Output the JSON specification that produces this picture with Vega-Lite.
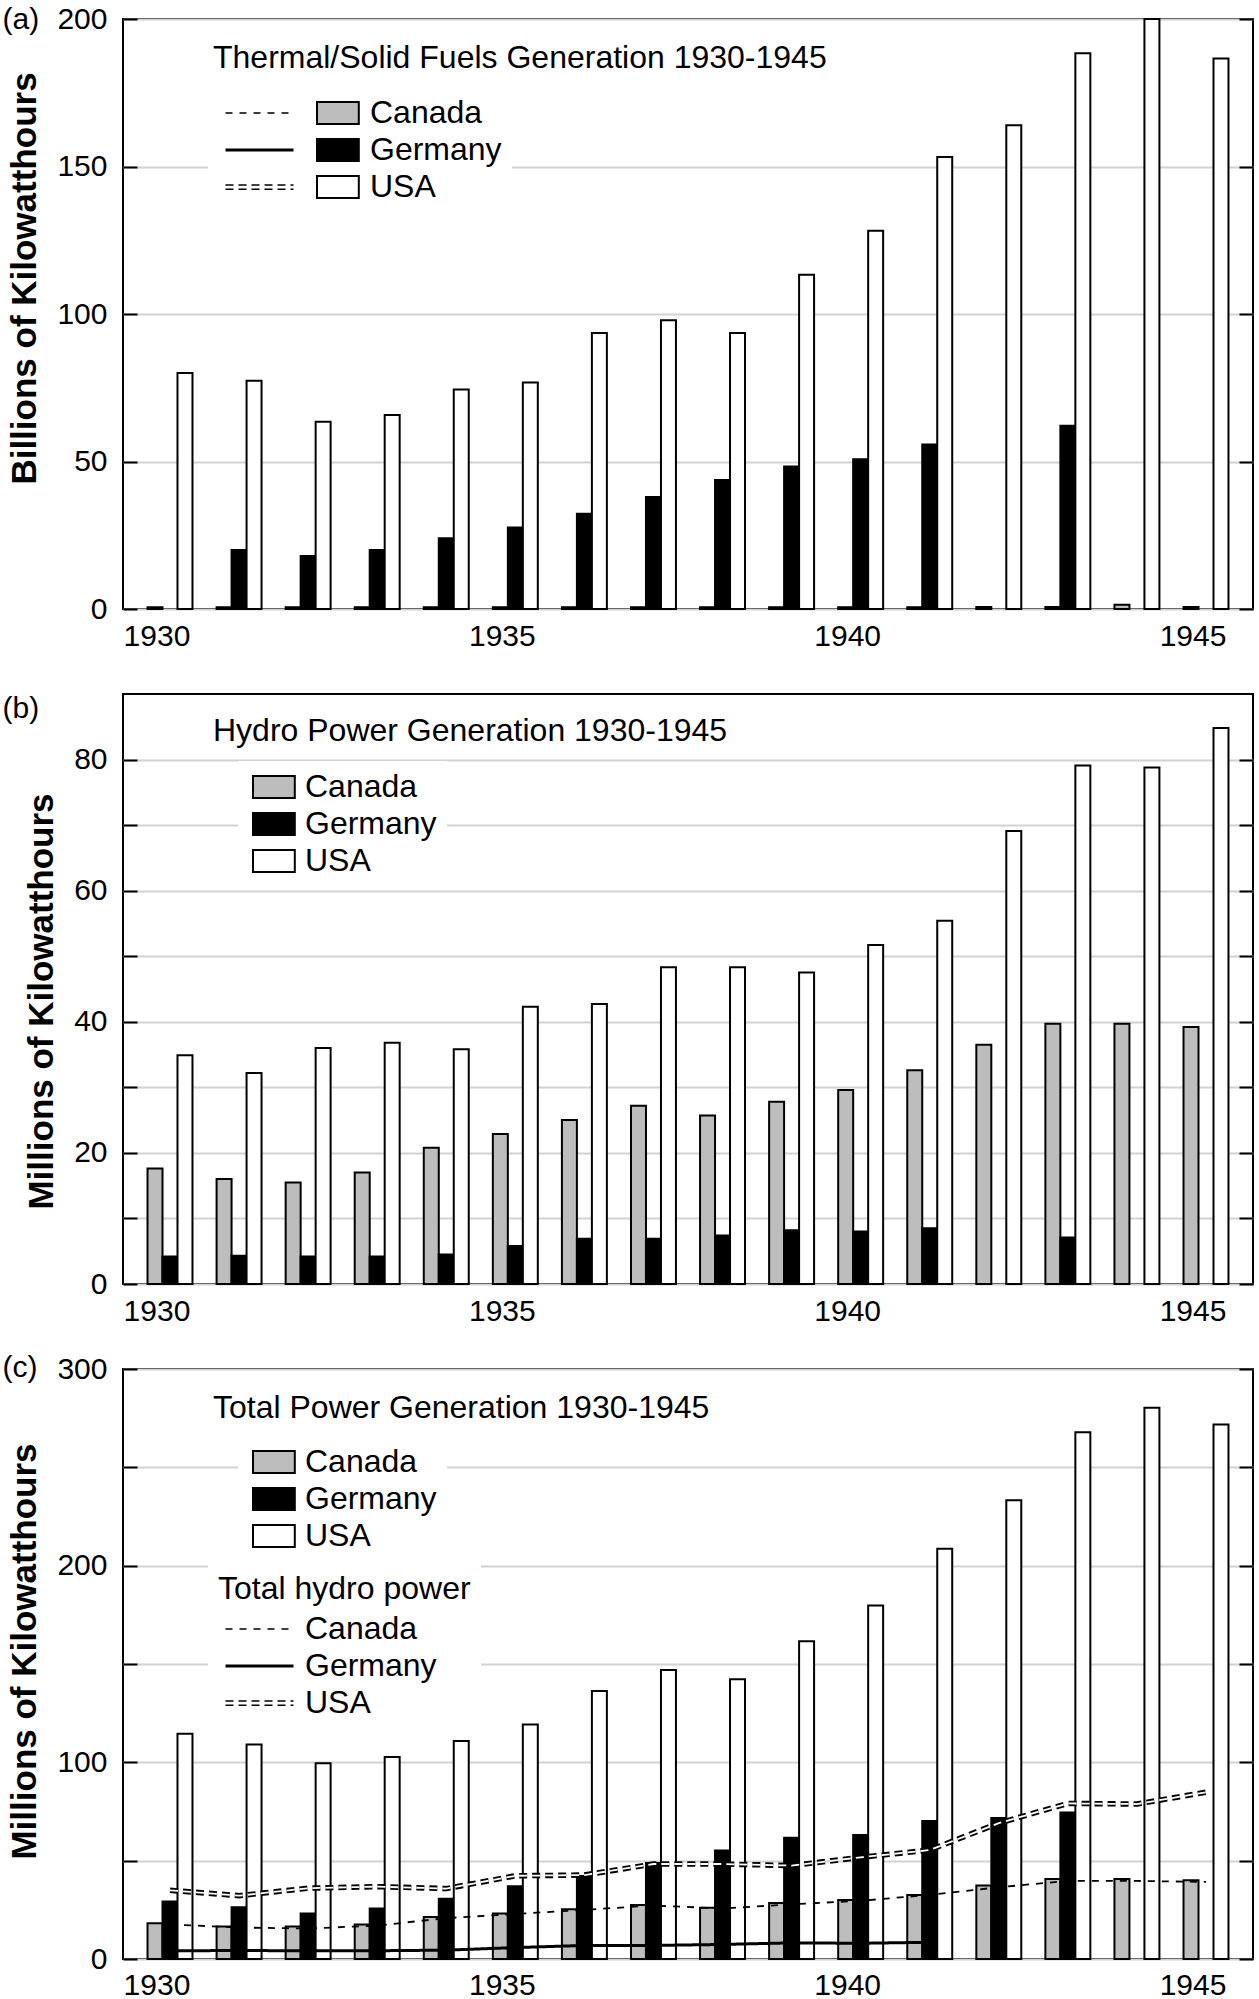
{
  "$schema": "https://vega.github.io/schema/vega-lite/v6.json",
  "background": "white",
  "padding": {"left": 1, "top": 3, "right": 0, "bottom": 0},
  "datasets": {
    "thermal": [
      {"year": 1930, "country": "Canada", "value": 0.6}, {"year": 1931, "country": "Canada", "value": 0.6},
      {"year": 1932, "country": "Canada", "value": 0.6}, {"year": 1933, "country": "Canada", "value": 0.6},
      {"year": 1934, "country": "Canada", "value": 0.6}, {"year": 1935, "country": "Canada", "value": 0.6},
      {"year": 1936, "country": "Canada", "value": 0.6}, {"year": 1937, "country": "Canada", "value": 0.6},
      {"year": 1938, "country": "Canada", "value": 0.6}, {"year": 1939, "country": "Canada", "value": 0.6},
      {"year": 1940, "country": "Canada", "value": 0.6}, {"year": 1941, "country": "Canada", "value": 0.6},
      {"year": 1942, "country": "Canada", "value": 0.7}, {"year": 1943, "country": "Canada", "value": 0.7},
      {"year": 1944, "country": "Canada", "value": 1.4}, {"year": 1945, "country": "Canada", "value": 0.7},
      {"year": 1931, "country": "Germany", "value": 20}, {"year": 1932, "country": "Germany", "value": 18},
      {"year": 1933, "country": "Germany", "value": 20}, {"year": 1934, "country": "Germany", "value": 24},
      {"year": 1935, "country": "Germany", "value": 27.6}, {"year": 1936, "country": "Germany", "value": 32.3},
      {"year": 1937, "country": "Germany", "value": 38}, {"year": 1938, "country": "Germany", "value": 43.7},
      {"year": 1939, "country": "Germany", "value": 48.3}, {"year": 1940, "country": "Germany", "value": 50.8},
      {"year": 1941, "country": "Germany", "value": 55.8}, {"year": 1943, "country": "Germany", "value": 62.1},
      {"year": 1930, "country": "USA", "value": 80}, {"year": 1931, "country": "USA", "value": 77.4},
      {"year": 1932, "country": "USA", "value": 63.5}, {"year": 1933, "country": "USA", "value": 65.8},
      {"year": 1934, "country": "USA", "value": 74.4}, {"year": 1935, "country": "USA", "value": 76.8},
      {"year": 1936, "country": "USA", "value": 93.6}, {"year": 1937, "country": "USA", "value": 97.9},
      {"year": 1938, "country": "USA", "value": 93.6}, {"year": 1939, "country": "USA", "value": 113.3},
      {"year": 1940, "country": "USA", "value": 128.2}, {"year": 1941, "country": "USA", "value": 153.2},
      {"year": 1942, "country": "USA", "value": 164}, {"year": 1943, "country": "USA", "value": 188.4},
      {"year": 1944, "country": "USA", "value": 200}, {"year": 1945, "country": "USA", "value": 186.6}
    ],
    "hydro": [
      {"year": 1930, "country": "Canada", "value": 17.6}, {"year": 1931, "country": "Canada", "value": 16.0},
      {"year": 1932, "country": "Canada", "value": 15.5}, {"year": 1933, "country": "Canada", "value": 17.0},
      {"year": 1934, "country": "Canada", "value": 20.8}, {"year": 1935, "country": "Canada", "value": 22.9},
      {"year": 1936, "country": "Canada", "value": 25.0}, {"year": 1937, "country": "Canada", "value": 27.2},
      {"year": 1938, "country": "Canada", "value": 25.7}, {"year": 1939, "country": "Canada", "value": 27.8},
      {"year": 1940, "country": "Canada", "value": 29.6}, {"year": 1941, "country": "Canada", "value": 32.6},
      {"year": 1942, "country": "Canada", "value": 36.5}, {"year": 1943, "country": "Canada", "value": 39.7},
      {"year": 1944, "country": "Canada", "value": 39.7}, {"year": 1945, "country": "Canada", "value": 39.2},
      {"year": 1930, "country": "Germany", "value": 4.2}, {"year": 1931, "country": "Germany", "value": 4.3},
      {"year": 1932, "country": "Germany", "value": 4.2}, {"year": 1933, "country": "Germany", "value": 4.2},
      {"year": 1934, "country": "Germany", "value": 4.5}, {"year": 1935, "country": "Germany", "value": 5.8},
      {"year": 1936, "country": "Germany", "value": 6.9}, {"year": 1937, "country": "Germany", "value": 6.9},
      {"year": 1938, "country": "Germany", "value": 7.4}, {"year": 1939, "country": "Germany", "value": 8.2},
      {"year": 1940, "country": "Germany", "value": 8.0}, {"year": 1941, "country": "Germany", "value": 8.5},
      {"year": 1943, "country": "Germany", "value": 7.1},
      {"year": 1930, "country": "USA", "value": 34.9}, {"year": 1931, "country": "USA", "value": 32.2},
      {"year": 1932, "country": "USA", "value": 36.0}, {"year": 1933, "country": "USA", "value": 36.8},
      {"year": 1934, "country": "USA", "value": 35.8}, {"year": 1935, "country": "USA", "value": 42.3},
      {"year": 1936, "country": "USA", "value": 42.7}, {"year": 1937, "country": "USA", "value": 48.3},
      {"year": 1938, "country": "USA", "value": 48.3}, {"year": 1939, "country": "USA", "value": 47.5},
      {"year": 1940, "country": "USA", "value": 51.7}, {"year": 1941, "country": "USA", "value": 55.4},
      {"year": 1942, "country": "USA", "value": 69.1}, {"year": 1943, "country": "USA", "value": 79.1},
      {"year": 1944, "country": "USA", "value": 78.8}, {"year": 1945, "country": "USA", "value": 84.8}
    ],
    "total": [
      {"year": 1930, "country": "Canada", "value": 18.2}, {"year": 1931, "country": "Canada", "value": 16.5},
      {"year": 1932, "country": "Canada", "value": 16.5}, {"year": 1933, "country": "Canada", "value": 17.5},
      {"year": 1934, "country": "Canada", "value": 21.4}, {"year": 1935, "country": "Canada", "value": 23.1},
      {"year": 1936, "country": "Canada", "value": 25.3}, {"year": 1937, "country": "Canada", "value": 27.4},
      {"year": 1938, "country": "Canada", "value": 26.1}, {"year": 1939, "country": "Canada", "value": 28.5},
      {"year": 1940, "country": "Canada", "value": 30.0}, {"year": 1941, "country": "Canada", "value": 32.5},
      {"year": 1942, "country": "Canada", "value": 37.4}, {"year": 1943, "country": "Canada", "value": 40.7},
      {"year": 1944, "country": "Canada", "value": 40.7}, {"year": 1945, "country": "Canada", "value": 40.0},
      {"year": 1930, "country": "Germany", "value": 29.3}, {"year": 1931, "country": "Germany", "value": 26.3},
      {"year": 1932, "country": "Germany", "value": 23.1}, {"year": 1933, "country": "Germany", "value": 25.7},
      {"year": 1934, "country": "Germany", "value": 30.6}, {"year": 1935, "country": "Germany", "value": 37.0},
      {"year": 1936, "country": "Germany", "value": 42.2}, {"year": 1937, "country": "Germany", "value": 48.8},
      {"year": 1938, "country": "Germany", "value": 55.2}, {"year": 1939, "country": "Germany", "value": 61.6},
      {"year": 1940, "country": "Germany", "value": 63.1}, {"year": 1941, "country": "Germany", "value": 70.2},
      {"year": 1942, "country": "Germany", "value": 71.7}, {"year": 1943, "country": "Germany", "value": 74.5},
      {"year": 1930, "country": "USA", "value": 114.5}, {"year": 1931, "country": "USA", "value": 109.1},
      {"year": 1932, "country": "USA", "value": 99.5}, {"year": 1933, "country": "USA", "value": 102.7},
      {"year": 1934, "country": "USA", "value": 110.8}, {"year": 1935, "country": "USA", "value": 119.2},
      {"year": 1936, "country": "USA", "value": 136.3}, {"year": 1937, "country": "USA", "value": 147.0},
      {"year": 1938, "country": "USA", "value": 142.3}, {"year": 1939, "country": "USA", "value": 161.6},
      {"year": 1940, "country": "USA", "value": 179.8}, {"year": 1941, "country": "USA", "value": 208.6},
      {"year": 1942, "country": "USA", "value": 233.3}, {"year": 1943, "country": "USA", "value": 267.9},
      {"year": 1944, "country": "USA", "value": 280.3}, {"year": 1945, "country": "USA", "value": 271.8}
    ]
  },
  "config": {
    "font": "Liberation Sans",
    "view": {"stroke": "black", "strokeWidth": 2},
    "axis": {
      "labelFont": "Liberation Sans", "labelFontSize": 30, "labelColor": "black",
      "titleFont": "Liberation Sans", "titleColor": "black",
      "gridColor": "#d2d2d2", "gridWidth": 2
    },
    "legend": {
      "labelFont": "Liberation Sans", "labelFontSize": 32, "labelColor": "black", "labelLimit": 1000,
      "titleFont": "Liberation Sans", "titleFontSize": 32, "titleFontWeight": "normal", "titleColor": "black", "titleLimit": 1000
    },
    "title": {"font": "Liberation Sans", "fontSize": 32, "fontWeight": "normal", "color": "black", "anchor": "start", "frame": "group", "limit": 1100}
  },
  "bounds": "flush",
  "spacing": 85,
  "resolve": {
    "scale": {"x": "independent", "y": "independent", "xOffset": "independent", "fill": "independent", "strokeDash": "independent"},
    "legend": {"fill": "independent", "strokeDash": "independent"}
  },
  "vconcat": [
    {
      "width": 1130, "height": 590,
      "title": {"text": "Thermal/Solid Fuels Generation 1930-1945", "dx": 90, "offset": -71},
      "data": {"name": "thermal"},
      "layer": [
        {
          "mark": {"type": "bar", "stroke": "black", "strokeWidth": 2},
          "encoding": {
            "x": {
              "field": "year", "type": "ordinal",
              "scale": {"paddingInner": 0.349, "paddingOuter": 0.355},
              "axis": {"title": null, "labelAngle": 0, "ticks": false, "domain": false, "labelPadding": 12, "labelOffset": -13,
                       "labelExpr": "datum.value % 5 === 0 ? datum.label : ''"}
            },
            "xOffset": {"field": "country"},
            "y": {
              "field": "value", "type": "quantitative",
              "scale": {"domain": [0, 200], "nice": false},
              "axis": {"orient": "left", "title": "Billions of Kilowatthours", "titleFontSize": 35, "titleFontWeight": "bold", "titlePadding": 14, "titleY": 259,
                       "values": [0, 50, 100, 150, 200], "tickSize": -14, "tickColor": "black", "tickWidth": 2,
                       "labelPadding": 30, "domain": false, "grid": true}
            },
            "fill": {
              "field": "country",
              "scale": {"range": ["#bdbdbd", "black", "white"]},
              "legend": {"title": null, "orient": "none", "legendX": 179, "legendY": 68, "padding": 10, "fillColor": "white",
                         "symbolType": "M-1,-1H2.8V1H-1Z", "symbolSize": 484, "symbolStrokeColor": "black", "symbolStrokeWidth": 2,
                         "labelOffset": 26, "rowPadding": 5}
            }
          }
        },
        {
          "data": {"name": "hydro"},
          "transform": [{"filter": "false"}],
          "mark": {"type": "line", "stroke": "black"},
          "encoding": {
            "x": {
              "field": "year", "type": "ordinal",
              "axis": {"title": null, "labelAngle": 0, "ticks": false, "domain": false, "labelPadding": 12, "labelOffset": -13,
                       "labelExpr": "datum.value % 5 === 0 ? datum.label : ''"}
            },
            "y": {
              "field": "value", "type": "quantitative",
              "axis": {"orient": "right", "title": "(a)", "titleAngle": 0, "titleX": -1251, "titleY": 0, "titleAlign": "left", "titleBaseline": "middle",
                       "titleFontSize": 30, "titleFontWeight": "normal", "labels": false, "values": [0, 50, 100, 150, 200],
                       "tickSize": -14, "tickColor": "black", "tickWidth": 2, "domain": false, "grid": false}
            },
            "strokeDash": {
              "field": "country",
              "scale": {"domain": ["Canada", "Germany", "USA"], "range": [[7, 7], [1, 0], [8, 5]]},
              "legend": {"title": null, "orient": "none", "legendX": 85, "legendY": 68, "padding": 10, "fillColor": "white",
                         "symbolType": "M-1,0H7", "symbolSize": 289, "symbolStrokeColor": "black", "symbolStrokeWidth": 1.5,
                         "labelExpr": "''", "labelOffset": 0, "rowPadding": 5,
                         "encode": {"symbols": {"update": {
                           "shape": {"signal": "datum.value === 'USA' ? 'M-1,-0.25H7M-1,0.25H7' : 'M-1,0H7'"},
                           "strokeWidth": {"signal": "datum.value === 'Germany' ? 3 : 1.5"}}}}}
            }
          }
        }
      ]
    },
    {
      "width": 1130, "height": 590,
      "title": {"text": "Hydro Power Generation 1930-1945", "dx": 90, "offset": -55},
      "data": {"name": "hydro"},
      "layer": [
        {
          "mark": {"type": "bar", "stroke": "black", "strokeWidth": 2},
          "encoding": {
            "x": {
              "field": "year", "type": "ordinal",
              "scale": {"paddingInner": 0.349, "paddingOuter": 0.355},
              "axis": {"title": null, "labelAngle": 0, "ticks": false, "domain": false, "labelPadding": 12, "labelOffset": -13,
                       "labelExpr": "datum.value % 5 === 0 ? datum.label : ''"}
            },
            "xOffset": {"field": "country"},
            "y": {
              "field": "value", "type": "quantitative",
              "scale": {"domain": [0, 90], "nice": false},
              "axis": {"orient": "left", "title": "Millions of Kilowatthours", "titleFontSize": 35, "titleFontWeight": "bold", "titlePadding": 14, "titleY": 307,
                       "values": [0, 10, 20, 30, 40, 50, 60, 70, 80], "labelExpr": "datum.value % 20 === 0 ? datum.label : ''",
                       "tickSize": -14, "tickColor": "black", "tickWidth": 2,
                       "labelPadding": 30, "domain": false, "grid": true}
            },
            "fill": {
              "field": "country",
              "scale": {"range": ["#bdbdbd", "black", "white"]},
              "legend": {"title": null, "orient": "none", "legendX": 115, "legendY": 67, "padding": 10, "fillColor": "white",
                         "symbolType": "M-1,-1H2.8V1H-1Z", "symbolSize": 484, "symbolStrokeColor": "black", "symbolStrokeWidth": 2,
                         "labelOffset": 25, "rowPadding": 5}
            }
          }
        },
        {
          "transform": [{"filter": "false"}],
          "mark": {"type": "rule"},
          "encoding": {
            "y": {
              "field": "value", "type": "quantitative",
              "axis": {"orient": "right", "title": "(b)", "titleAngle": 0, "titleX": -1251, "titleY": 14, "titleAlign": "left", "titleBaseline": "middle",
                       "titleFontSize": 30, "titleFontWeight": "normal", "labels": false, "values": [0, 10, 20, 30, 40, 50, 60, 70, 80],
                       "tickSize": -14, "tickColor": "black", "tickWidth": 2, "domain": false, "grid": false}
            }
          }
        }
      ]
    },
    {
      "width": 1130, "height": 590,
      "title": {"text": "Total Power Generation 1930-1945", "dx": 90, "offset": -73},
      "data": {"name": "total"},
      "layer": [
        {
          "mark": {"type": "bar", "stroke": "black", "strokeWidth": 2},
          "encoding": {
            "x": {
              "field": "year", "type": "ordinal",
              "scale": {"paddingInner": 0.349, "paddingOuter": 0.355},
              "axis": {"title": null, "labelAngle": 0, "ticks": false, "domain": false, "labelPadding": 11, "labelOffset": -13,
                       "labelExpr": "datum.value % 5 === 0 ? datum.label : ''"}
            },
            "xOffset": {"field": "country"},
            "y": {
              "field": "value", "type": "quantitative",
              "scale": {"domain": [0, 300], "nice": false},
              "axis": {"orient": "left", "title": "Millions of Kilowatthours", "titleFontSize": 35, "titleFontWeight": "bold", "titlePadding": 14, "titleY": 282,
                       "values": [0, 50, 100, 150, 200, 250, 300], "labelExpr": "datum.value % 100 === 0 ? datum.label : ''",
                       "tickSize": -14, "tickColor": "black", "tickWidth": 2,
                       "labelPadding": 30, "domain": false, "grid": true}
            },
            "fill": {
              "field": "country",
              "scale": {"range": ["#bdbdbd", "black", "white"]},
              "legend": {"title": null, "orient": "none", "legendX": 115, "legendY": 67, "padding": 10, "fillColor": "white",
                         "symbolType": "M-1,-1H2.8V1H-1Z", "symbolSize": 484, "symbolStrokeColor": "black", "symbolStrokeWidth": 2,
                         "labelOffset": 25, "rowPadding": 5}
            }
          }
        },
        {
          "data": {"name": "hydro"},
          "transform": [{"filter": "datum.country === 'Canada' || (datum.country === 'Germany' && datum.year <= 1941)"}],
          "mark": {"type": "line", "stroke": "black"},
          "encoding": {
            "x": {
              "field": "year", "type": "ordinal",
              "axis": {"title": null, "labelAngle": 0, "ticks": false, "domain": false, "labelPadding": 11, "labelOffset": -13,
                       "labelExpr": "datum.value % 5 === 0 ? datum.label : ''"}
            },
            "y": {
              "field": "value", "type": "quantitative",
              "axis": {"orient": "right", "title": "(c)", "titleAngle": 0, "titleX": -1251, "titleY": -2, "titleAlign": "left", "titleBaseline": "middle",
                       "titleFontSize": 30, "titleFontWeight": "normal", "labels": false, "values": [0, 50, 100, 150, 200, 250, 300],
                       "tickSize": -14, "tickColor": "black", "tickWidth": 2, "domain": false, "grid": false}
            },
            "strokeWidth": {"condition": {"test": "datum.country === 'Germany'", "value": 3}, "value": 1.8},
            "strokeDash": {
              "field": "country",
              "scale": {"domain": ["Canada", "Germany", "USA"], "range": [[7, 7], [1, 0], [8, 5]]},
              "legend": {"title": "Total hydro power", "titlePadding": 7, "orient": "none", "legendX": 85, "legendY": 195, "padding": 10, "fillColor": "white",
                         "symbolType": "M-1,0H7", "symbolSize": 289, "symbolStrokeColor": "black", "symbolStrokeWidth": 1.5,
                         "labelOffset": 55, "rowPadding": 5,
                         "encode": {"symbols": {"update": {
                           "shape": {"signal": "datum.value === 'USA' ? 'M-1,-0.25H7M-1,0.25H7' : 'M-1,0H7'"},
                           "strokeWidth": {"signal": "datum.value === 'Germany' ? 3 : 1.5"}}}}}
            }
          }
        },
        {
          "data": {"name": "hydro"},
          "transform": [{"filter": "datum.country === 'USA'"}],
          "mark": {"type": "line", "stroke": "black", "strokeWidth": 5.5},
          "encoding": {
            "x": {
              "field": "year", "type": "ordinal",
              "axis": {"title": null, "labelAngle": 0, "ticks": false, "domain": false, "labelPadding": 11, "labelOffset": -13,
                       "labelExpr": "datum.value % 5 === 0 ? datum.label : ''"}
            },
            "y": {"field": "value", "type": "quantitative", "axis": null},
            "strokeDash": {"field": "country", "legend": null}
          }
        },
        {
          "data": {"name": "hydro"},
          "transform": [{"filter": "datum.country === 'USA'"}],
          "mark": {"type": "line", "stroke": "white", "strokeWidth": 1.8},
          "encoding": {
            "x": {
              "field": "year", "type": "ordinal",
              "axis": {"title": null, "labelAngle": 0, "ticks": false, "domain": false, "labelPadding": 11, "labelOffset": -13,
                       "labelExpr": "datum.value % 5 === 0 ? datum.label : ''"}
            },
            "y": {"field": "value", "type": "quantitative", "axis": null},
            "strokeDash": {"field": "country", "legend": null}
          }
        }
      ]
    }
  ]
}
